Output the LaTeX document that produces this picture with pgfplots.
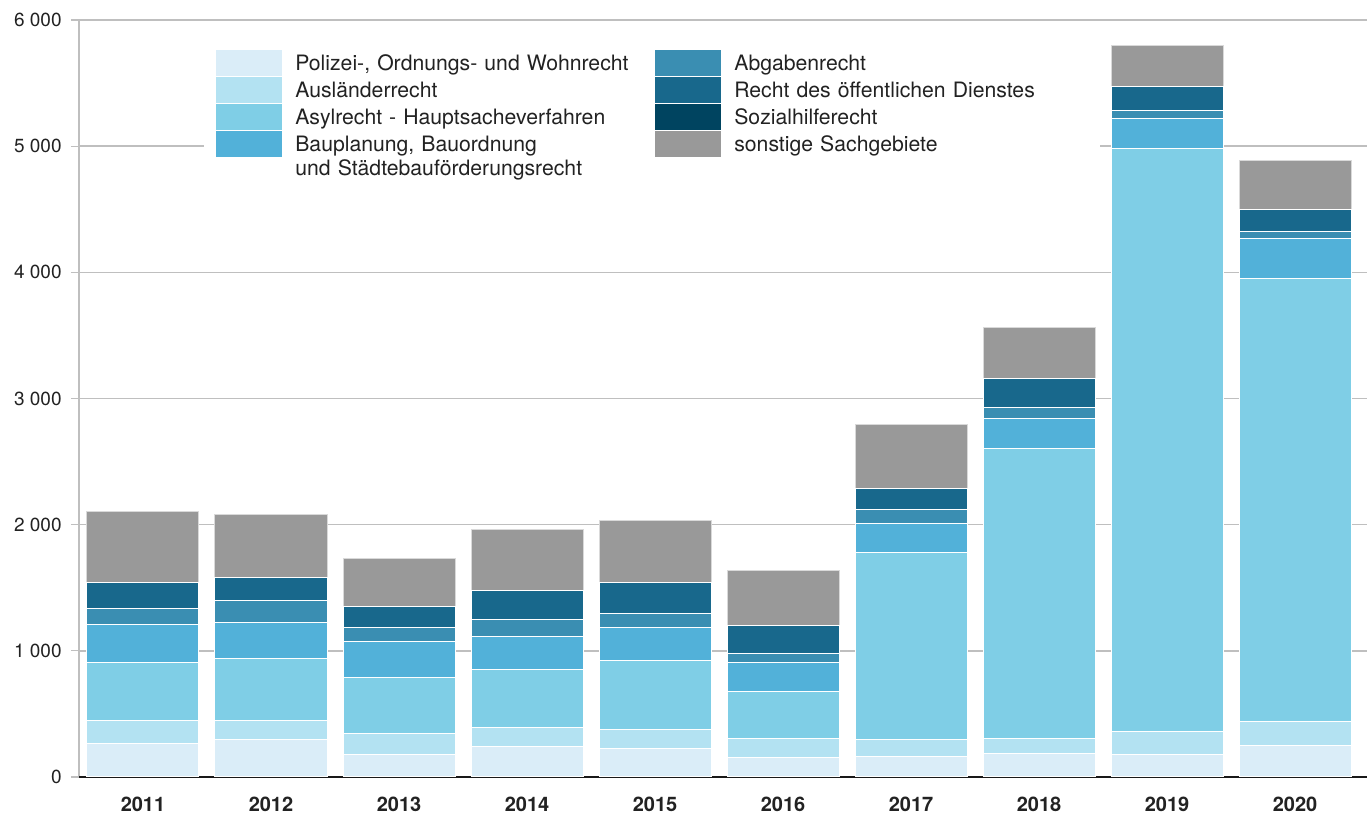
\documentclass[border=0pt]{standalone}
\usepackage{fontspec}
\setmainfont{TeX Gyre Heros}
\usepackage{pgfplots}
\usepackage{pgfplotstable}
\pgfplotsset{compat=1.18}
\definecolor{cpol}{HTML}{DAEDF8}
\definecolor{caus}{HTML}{B3E2F2}
\definecolor{casy}{HTML}{7FCEE6}
\definecolor{cbau}{HTML}{52B1D9}
\definecolor{cabg}{HTML}{3A8EB2}
\definecolor{coef}{HTML}{18688C}
\definecolor{csoz}{HTML}{004460}
\definecolor{cson}{HTML}{999999}
\definecolor{cgrid}{HTML}{BFBFBF}
\definecolor{ctext}{HTML}{222222}
\pgfplotstableread{
x pol aus asy bau abg soz oef son
0 267 177 467 301 122 0 211 557
1 301 145 497 285 172 0 182 497
2 177 164 446 285 111 0 170 380
3 240 156 454 267 132 0 227 489
4 224 156 547 259 106 0 248 494
5 153 151 370 235  68 0 227 436
6 166 135 1476 236 111 0 164 507
7 188 119 2298 234  90 0 233 401
8 180 179 4625 238  58 0 190 328
9 246 195 3513 311  56 0 177 386
}\data
\newcommand{\legbox}[1]{\addlegendimage{legend image code/.code={\fill[#1,draw=none,overlay] (0pt,-5.6pt) rectangle (33pt,7.2pt);\path[draw=none,fill=none] (0pt,0pt) -- (33pt,0pt);}}}
\begin{document}
\begin{tikzpicture}
\path[use as bounding box] (-39.5pt,-19pt) rectangle (644pt,388.5pt);
\begin{axis}[
  at={(0pt,0pt)}, anchor=south west,
  scale only axis, width=644pt, height=378.5pt,
  xmin=-0.5, xmax=9.5625, ymin=0, ymax=6000,
  ybar stacked, bar width=56pt,
  axis x line*=bottom, axis y line*=left,
  x axis line style={color=black!90, line width=1.3pt},
  y axis line style={color=cgrid, line width=0.6pt},
  xtick={0,...,9},
  xticklabels={2011,2012,2013,2014,2015,2016,2017,2018,2019,2020},
  x tick style={draw=none},
  xticklabel style={font=\fontsize{10}{11}\selectfont\bfseries, text=ctext, yshift=-2.7pt},
  ytick={0,1000,2000,3000,4000,5000,6000},
  yticklabels={0,1 000,2 000,3 000,4 000,5 000,6 000},
  y tick style={color=cgrid, line width=0.6pt},
  tick align=outside, major tick length=4pt,
  yticklabel style={font=\fontsize{9.5}{11}\selectfont, text=ctext, inner sep=0pt, xshift=-4.5pt},
  /pgf/number format/assume math mode=true,
  ymajorgrids, grid style={color=cgrid, line width=0.8pt},
  legend columns=2,
  legend style={at={(0.097,0.970)}, anchor=north west, draw=none, fill=white,
    inner xsep=6pt, inner ysep=4pt,
    font=\fontsize{10.6}{12}\selectfont,
    nodes={text=ctext, text width=175pt, align=left, inner xsep=2pt, inner ysep=0.25pt, text height=9.5pt, text depth=3.5pt},
    row sep=0pt,
    /tikz/every odd column/.append style={column sep=4.5pt},
    /tikz/every even column/.append style={column sep=3pt}},
]
\addplot[fill=cpol, draw=white, line width=0.5pt, forget plot] table[x=x,y=pol]{\data};
\addplot[fill=caus, draw=white, line width=0.5pt, forget plot] table[x=x,y=aus]{\data};
\addplot[fill=casy, draw=white, line width=0.5pt, forget plot] table[x=x,y=asy]{\data};
\addplot[fill=cbau, draw=white, line width=0.5pt, forget plot] table[x=x,y=bau]{\data};
\addplot[fill=cabg, draw=white, line width=0.5pt, forget plot] table[x=x,y=abg]{\data};
\addplot[fill=csoz, draw=white, line width=0.5pt, forget plot] table[x=x,y=soz]{\data};
\addplot[fill=coef, draw=white, line width=0.5pt, forget plot] table[x=x,y=oef]{\data};
\addplot[fill=cson, draw=white!85!black, line width=0.5pt, forget plot] table[x=x,y=son]{\data};
\draw[black!90, line width=1.3pt] (rel axis cs:0,0) -- (rel axis cs:1,0);
\legbox{cpol}\addlegendentry{Polizei-, Ordnungs- und Wohnrecht}
\legbox{cabg}\addlegendentry{Abgabenrecht}
\legbox{caus}\addlegendentry{Ausländerrecht}
\legbox{coef}\addlegendentry{Recht des öffentlichen Dienstes}
\legbox{casy}\addlegendentry{Asylrecht - Hauptsacheverfahren}
\legbox{csoz}\addlegendentry{Sozialhilferecht}
\legbox{cbau}\addlegendentry{Bauplanung, Bauordnung\\und Städtebauförderungsrecht}
\legbox{cson}\addlegendentry{sonstige Sachgebiete}
\end{axis}
\end{tikzpicture}
\end{document}
